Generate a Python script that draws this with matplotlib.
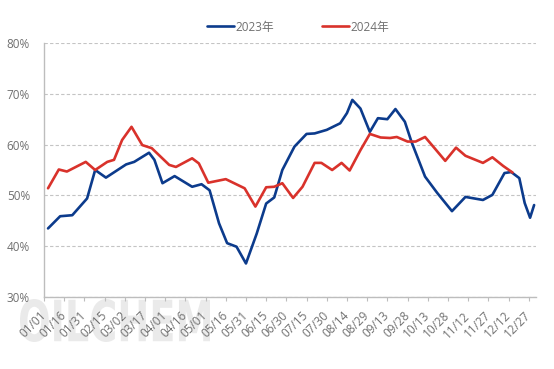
import matplotlib
matplotlib.use("Agg")
import matplotlib.pyplot as plt
import pandas as pd
from matplotlib.textpath import TextPath
from matplotlib.patches import PathPatch
from matplotlib.font_manager import FontProperties
from matplotlib import transforms

plt.rcParams['font.family'] = ['Open Sans', 'Noto Sans CJK SC', 'DejaVu Sans']

# ---- data ----
dates_2023 = ['01/04', '01/13', '01/22', '02/02', '02/08', '02/16', '03/03', '03/09', '03/20',
              '03/24', '03/30', '04/08', '04/21', '04/28', '05/04', '05/11', '05/17', '05/24',
              '05/31', '06/08', '06/15', '06/21', '06/27', '07/06', '07/15', '07/21', '07/30',
              '08/09', '08/14', '08/18', '08/24', '08/31', '09/06', '09/13', '09/19', '09/26',
              '10/01', '10/11', '10/20', '10/31', '11/10', '11/23', '11/30', '12/09', '12/14',
              '12/20', '12/24', '12/28', '12/31']
values_2023 = [43.5, 45.9, 46.1, 49.4, 55.0, 53.5, 56.1, 56.6, 58.4,
               57.0, 52.4, 53.8, 51.7, 52.2, 51.0, 44.5, 40.6, 39.9,
               36.6, 42.5, 48.4, 49.6, 55.0, 59.6, 62.1, 62.2, 62.9,
               64.2, 66.2, 68.8, 67.1, 62.5, 65.2, 65.0, 67.0, 64.5,
               60.5, 53.7, 50.5, 46.9, 49.7, 49.1, 50.1, 54.4, 54.6,
               53.4, 48.5, 45.6, 48.1]

dates_2024 = ['01/04', '01/12', '01/18', '02/01', '02/08', '02/17', '02/22', '02/28', '03/07',
              '03/15', '03/22', '04/04', '04/09', '04/21', '04/26', '05/03', '05/16', '05/30',
              '06/07', '06/15', '06/21', '06/27', '07/05', '07/12', '07/21', '07/26', '08/03',
              '08/10', '08/16', '08/24', '08/31', '09/08', '09/15', '09/20', '09/28', '10/04',
              '10/11', '10/19', '10/26', '11/03', '11/10', '11/23', '11/30', '12/08', '12/15']
values_2024 = [51.4, 55.1, 54.7, 56.6, 55.0, 56.6, 57.0, 60.9, 63.5,
               59.9, 59.3, 56.0, 55.6, 57.3, 56.3, 52.5, 53.2, 51.4,
               47.8, 51.6, 51.7, 52.4, 49.5, 51.7, 56.4, 56.4, 55.0,
               56.4, 54.9, 58.9, 62.1, 61.4, 61.3, 61.5, 60.6, 60.6,
               61.5, 59.0, 56.8, 59.4, 57.8, 56.4, 57.5, 55.8, 54.5]

series_names = ['2023年', '2024年']
y_ticks = [30, 40, 50, 60, 70, 80]

# category axis: every day of the year, labelled every 15 days
all_days = pd.date_range('2023-01-01', '2023-12-31')
tick_idx = list(range(0, len(all_days), 15))
tick_labels = [all_days[i].strftime('%m/%d') for i in tick_idx]


def to_idx(ds):
    return [pd.Timestamp('2023/' + d).dayofyear - 1 for d in ds]


W, H = 554, 369
fig = plt.figure(figsize=(W / 100, H / 100), dpi=100)
ax = fig.add_axes([44 / W, 1 - 297 / H, (536 - 44) / W, (297 - 43) / H])
ax.set_facecolor('none')

blue = '#0c3b8c'
red = '#d9322b'
gray_txt = '#707070'

ax.plot(to_idx(dates_2023), values_2023, color=blue, lw=1.9, label=series_names[0],
        solid_joinstyle='round', solid_capstyle='round', zorder=3)
ax.plot(to_idx(dates_2024), values_2024, color=red, lw=1.9, label=series_names[1],
        solid_joinstyle='round', solid_capstyle='round', zorder=3)

ax.set_xlim(0, 365.4)
ax.set_ylim(30, 80)
ax.set_yticks(y_ticks)
ax.set_yticklabels([f'{v}%' for v in y_ticks])
ax.set_xticks(tick_idx)
ax.set_xticklabels(tick_labels, rotation=45, ha='right', va='center', rotation_mode='anchor')

for s in ['top', 'right']:
    ax.spines[s].set_visible(False)
for s in ['left', 'bottom']:
    ax.spines[s].set_color('#bdbdbd')
    ax.spines[s].set_linewidth(1.0)

ax.grid(axis='y', color='#c4c4c4', linestyle=(0, (3, 2)), linewidth=0.8)
ax.set_axisbelow(True)
ax.tick_params(axis='y', length=0, pad=10, labelsize=8.5, labelcolor=gray_txt)
ax.tick_params(axis='x', length=3, width=0.8, color='#bdbdbd', pad=9, labelsize=8.5,
               labelcolor=gray_txt)

leg = ax.legend(loc='center', bbox_to_anchor=(298 / W, 1 - 27 / H), bbox_transform=fig.transFigure,
                ncol=2, frameon=False, handlelength=2.3, handletextpad=0.15, columnspacing=4.0,
                fontsize=8.5)
for t in leg.get_texts():
    t.set_color(gray_txt)

# watermark
fp = FontProperties(family='DejaVu Sans', weight='bold')
tp = TextPath((0, 0), 'OILCHEM', size=1, prop=fp)
bb = tp.get_extents()
x0, x1, ytop, ybot = 20, 210, 299, 342
sx = (x1 - x0) / bb.width
sy = (ybot - ytop) / bb.height
tr = transforms.Affine2D().translate(-bb.x0, -bb.y0).scale(sx, sy).translate(x0, H - ybot)
wm = PathPatch(tr.transform_path(tp), facecolor='#eaeaea', edgecolor='none',
               transform=transforms.IdentityTransform(), zorder=-1)
fig.patches.append(wm)

fig.savefig('out.png', dpi=100)
